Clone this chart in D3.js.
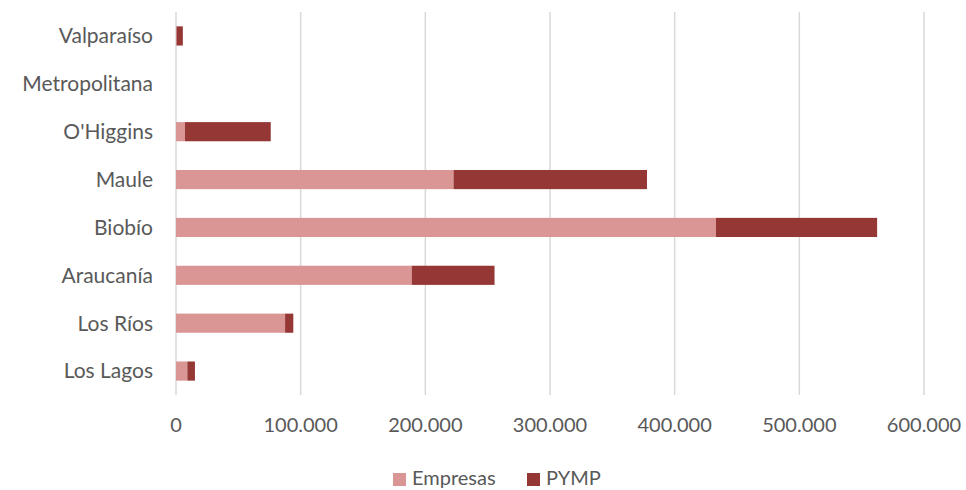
<!DOCTYPE html>
<html>
<head>
<meta charset="utf-8">
<script src="https://cdn.jsdelivr.net/npm/d3@7"></script>
<style>
  body { margin: 0; background: #fff; }
  text { font-family: Lato, "Open Sans", sans-serif; fill: #595959; }
</style>
</head>
<body>
<div id="chart"></div>
<script>
const regions = ["Valparaíso", "Metropolitana", "O'Higgins", "Maule", "Biobío", "Araucanía", "Los Ríos", "Los Lagos"];
const empresas = [500, 0, 7200, 222600, 433100, 189100, 87500, 9100];
const pymp = [5000, 0, 68800, 155200, 129300, 66400, 6600, 6100];
const xTicks = [0, 100000, 200000, 300000, 400000, 500000, 600000];
const seriesNames = ["Empresas", "PYMP"];
const colors = ["#da9694", "#953735"];

const width = 966, height = 490;
const margin = { top: 12, right: 42, bottom: 95, left: 176 };

const svg = d3.select("#chart").append("svg")
    .attr("width", width)
    .attr("height", height);

const x = d3.scaleLinear()
    .domain([0, 600000])
    .range([margin.left, width - margin.right]);

const y = d3.scaleBand()
    .domain(regions)
    .range([margin.top, height - margin.bottom])
    .paddingInner(0.6)
    .paddingOuter(0.3);

const fmt = d => d3.format(",")(d).replace(/,/g, ".");

// gridlines
svg.append("g")
    .selectAll("line")
    .data(xTicks)
    .enter().append("line")
    .attr("x1", d => x(d))
    .attr("x2", d => x(d))
    .attr("y1", margin.top)
    .attr("y2", height - margin.bottom)
    .attr("stroke", "#d9d9d9")
    .attr("stroke-width", 1.5);

const rows = regions.map((r, i) => ({ region: r, Empresas: empresas[i], PYMP: pymp[i] }));
const stacked = d3.stack().keys(seriesNames)(rows);

svg.append("g")
    .selectAll("g")
    .data(stacked)
    .enter().append("g")
    .attr("fill", (d, i) => colors[i])
    .selectAll("rect")
    .data(d => d)
    .enter().append("rect")
    .attr("x", d => x(d[0]))
    .attr("y", d => y(d.data.region))
    .attr("width", d => x(d[1]) - x(d[0]))
    .attr("height", y.bandwidth());

// category labels
svg.append("g")
    .selectAll("text")
    .data(regions)
    .enter().append("text")
    .attr("x", margin.left - 23)
    .attr("y", d => y(d) + y.bandwidth() / 2)
    .attr("dy", "0.35em")
    .attr("text-anchor", "end")
    .style("font-size", "21px")
    .text(d => d);

// x axis labels
svg.append("g")
    .selectAll("text")
    .data(xTicks)
    .enter().append("text")
    .attr("x", d => x(d))
    .attr("y", 425)
    .attr("dy", "0.35em")
    .attr("text-anchor", "middle")
    .style("font-size", "20px")
    .text(fmt);

// legend
const legend = svg.append("g");
const legendX = [393, 527];
seriesNames.forEach((name, i) => {
    legend.append("rect")
        .attr("x", legendX[i])
        .attr("y", 473)
        .attr("width", 13)
        .attr("height", 13)
        .attr("fill", colors[i]);
    legend.append("text")
        .attr("x", legendX[i] + 19)
        .attr("y", 478)
        .attr("dy", "0.35em")
        .style("font-size", "20px")
        .text(name);
});
</script>
</body>
</html>
